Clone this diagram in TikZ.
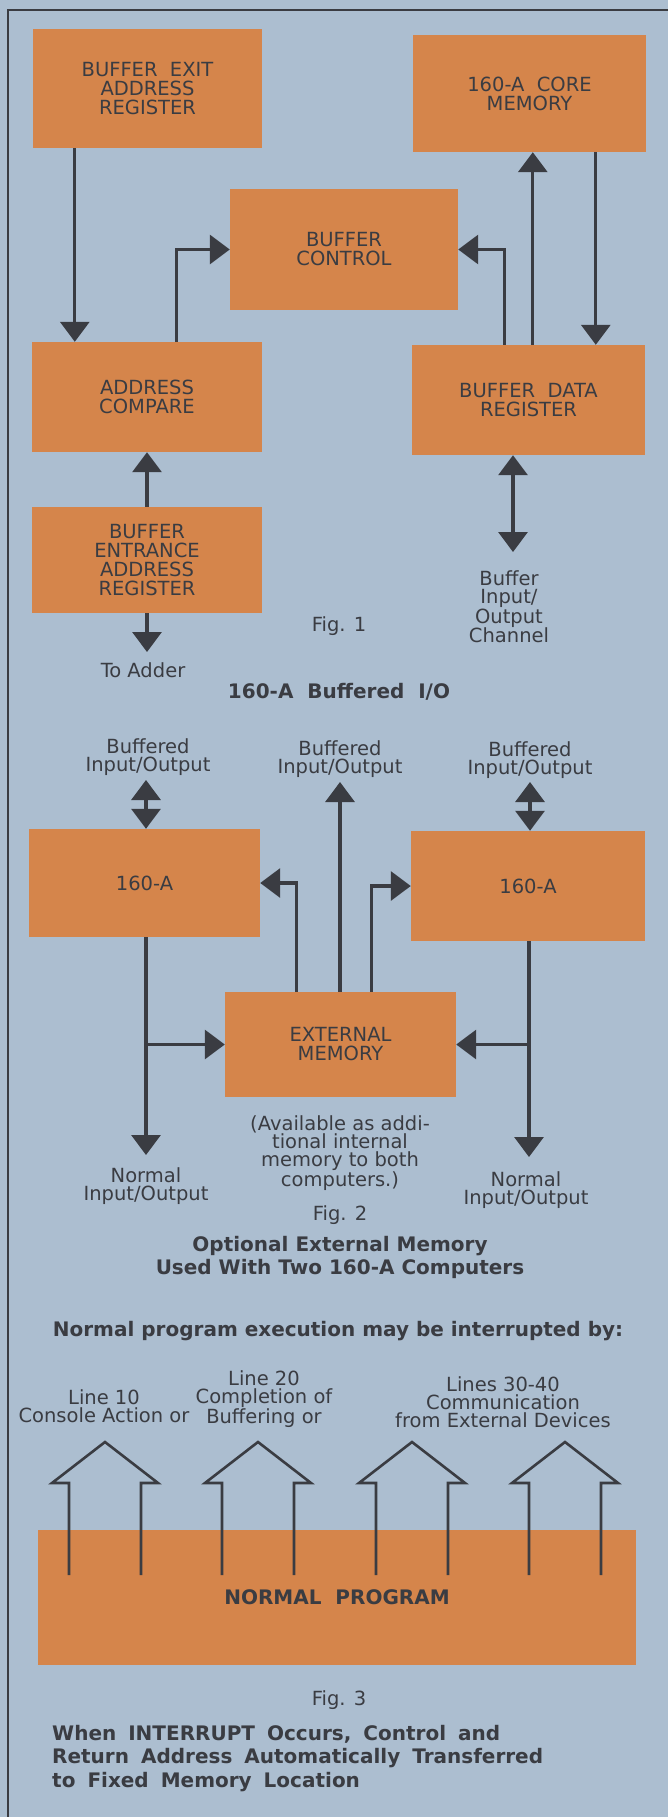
\documentclass[tikz,border=0pt]{standalone}
\usepackage{fontspec}
\setmainfont{DejaVu Sans}
\usetikzlibrary{arrows.meta}
\definecolor{bgblue}{RGB}{172,190,208}
\definecolor{boxorange}{RGB}{213,133,75}
\definecolor{inkgray}{RGB}{58,60,66}
\tikzstyle{register} = [rectangle, fill=boxorange, text=inkgray, align=center, inner sep=0pt, font=\fontsize{19.5pt}{19pt}\selectfont]
\tikzstyle{textnote} = [text=inkgray, align=center, inner sep=0pt, font=\fontsize{19.5pt}{18pt}\selectfont]
\tikzstyle{heading} = [text=inkgray, align=center, inner sep=0pt, font=\bfseries\fontsize{20pt}{23pt}\selectfont]
\tikzstyle{arrow} = [line width=3.2pt, draw=inkgray, -{Triangle[width=29pt,length=20pt]}]
\tikzstyle{arrow_both} = [line width=3.2pt, draw=inkgray, {Triangle[width=29pt,length=20pt]}-{Triangle[width=29pt,length=20pt]}]
\tikzstyle{hollow} = [line width=2.6pt, draw=inkgray, line join=miter]
\tikzstyle{figframe} = [line width=2.5pt, draw=inkgray]

\begin{document}
\begin{tikzpicture}[x=1pt, y=-1pt]
\fill [bgblue] (0,0) rectangle (668,1817);
\useasboundingbox (0,0) rectangle (668,1817);
\draw [figframe] (8,1817) -- (8,10) -- (668,10);

% Fig. 1
\node (bexit) [register, minimum width=229pt, minimum height=119pt] at (147.5,88.5) {BUFFER\ \ EXIT\\ADDRESS\\REGISTER};
\node (core) [register, minimum width=233pt, minimum height=117pt] at (529.5,93.5) {160-A\ \ CORE\\MEMORY};
\node (bctrl) [register, minimum width=228pt, minimum height=121pt] at (344,249.5) {BUFFER\\CONTROL};
\node (acomp) [register, minimum width=230pt, minimum height=110pt] at (147,397) {ADDRESS\\COMPARE};
\node (bdata) [register, minimum width=233pt, minimum height=110pt] at (528.5,400) {BUFFER\ \ DATA\\REGISTER};
\node (bentr) [register, minimum width=230pt, minimum height=106pt] at (147,560) {BUFFER\\ENTRANCE\\ADDRESS\\REGISTER};
\node (toadder) [textnote] at (143,670) {To Adder};
\node (channel) [textnote] at (509,607) {Buffer\\Input/\\Output\\Channel};
\node (fig1) [textnote] at (339,626) {Fig. 1};
\node (title1) [heading] at (339,692) {160-A\ \ Buffered\ \ I/O};
\coordinate (adder) at (147,652);
\coordinate (chanin) at (513,552);

\draw [arrow] ([xshift=42pt]bexit.south west) -- ([xshift=43pt]acomp.north west);
\draw [arrow] ([xshift=145pt]acomp.north west) |- (bctrl.west);
\draw [arrow] ([xshift=93pt]bdata.north west) |- (bctrl.east);
\draw [arrow] ([xshift=121pt]bdata.north west) -- ([xshift=120pt]core.south west);
\draw [arrow] ([xshift=183pt]core.south west) -- ([xshift=184pt]bdata.north west);
\draw [arrow] (bentr.north) -- (acomp.south);
\draw [arrow] (bentr.south) -- (adder);
\draw [arrow_both] (bdata.south -| chanin) -- (chanin);

% Fig. 2
\node (cpuA) [register, minimum width=231pt, minimum height=108pt] at (144.5,883) {160-A};
\node (cpuB) [register, minimum width=234pt, minimum height=110pt] at (528,886) {160-A};
\node (extmem) [register, minimum width=231pt, minimum height=105pt] at (340.5,1044.5) {EXTERNAL\\MEMORY};
\node (bufioA) [textnote] at (148,757) {Buffered\\Input/Output};
\node (bufioC) [textnote] at (340,759) {Buffered\\Input/Output};
\node (bufioB) [textnote] at (530,760) {Buffered\\Input/Output};
\node (normioA) [textnote] at (146,1186) {Normal\\Input/Output};
\node (normioB) [textnote] at (526,1190) {Normal\\Input/Output};
\node (avail) [textnote] at (340,1153) {(Available as addi-\\tional internal\\memory to both\\computers.)};
\node (fig2) [textnote] at (340,1215) {Fig. 2};
\node (title2) [heading] at (340,1257) {Optional External Memory\\Used With Two 160-A Computers};
\coordinate (bioA) at (146,780);
\coordinate (bioC) at (340,782);
\coordinate (bioB) at (530,782);
\coordinate (nioA) at (146,1155);
\coordinate (nioB) at (529,1157);

\draw [arrow_both] (bioA) -- (cpuA.north -| bioA);
\draw [arrow_both] (bioB) -- (cpuB.north -| bioB);
\draw [arrow] (extmem.north -| bioC) -- (bioC);
\draw [arrow] ([xshift=72pt]extmem.north west) |- (cpuA.east);
\draw [arrow] ([xshift=147pt]extmem.north west) |- (cpuB.west);
\draw [arrow] (cpuA.south -| nioA) -- (nioA);
\draw [arrow] (nioA |- extmem.west) -- (extmem.west);
\draw [arrow] (cpuB.south -| nioB) -- (nioB);
\draw [arrow] (nioB |- extmem.east) -- (extmem.east);

% Fig. 3
\node (title3) [heading] at (338,1331) {Normal program execution may be interrupted by:};
\node (line10) [textnote] at (104,1406) {Line 10\\Console Action or};
\node (line20) [textnote] at (264,1399) {Line 20\\Completion of\\Buffering or};
\node (line30) [textnote] at (503,1402) {Lines 30-40\\Communication\\from External Devices};
\node (normprog) [register, minimum width=598pt, minimum height=135pt, font=\bfseries\fontsize{20pt}{23pt}\selectfont] at (337,1597.5) {NORMAL\ \ PROGRAM};
\foreach \x in {105,258,412,565}
  \draw [hollow] (\x-36,1575) -- (\x-36,1483) -- (\x-53,1483) -- (\x,1442) -- (\x+53,1483) -- (\x+36,1483) -- (\x+36,1575);
\node (fig3) [textnote] at (339,1700) {Fig. 3};
\node (title4) [heading, align=left, anchor=north west, font={\bfseries\fontsize{20pt}{23.5pt}\selectfont\spaceskip=0.6em\relax}] at (52,1725) {When INTERRUPT Occurs, Control and\\Return Address Automatically Transferred\\to Fixed Memory Location};
\end{tikzpicture}
\end{document}
